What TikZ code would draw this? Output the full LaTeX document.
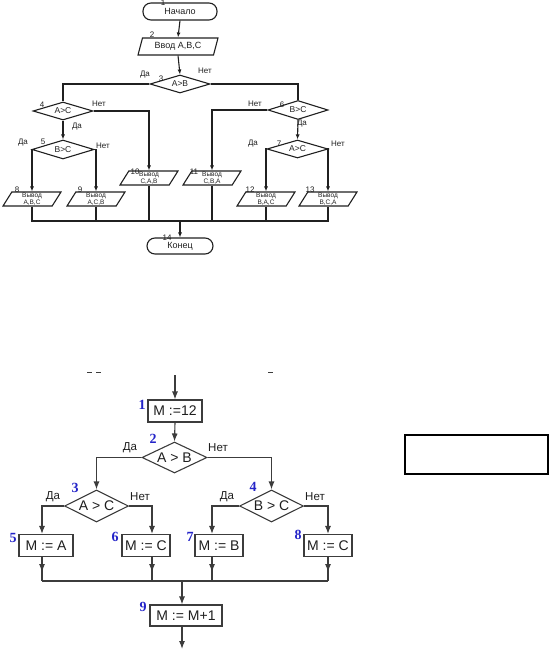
\documentclass[tikz,border=0pt]{standalone}
\usepackage{fontspec}
\setmainfont{Liberation Sans}
\newfontfamily\numfont{Liberation Serif}
\usetikzlibrary{arrows.meta,shapes.geometric,positioning}
\definecolor{ink}{HTML}{1E1E1E}
\definecolor{scanInk}{HTML}{202020}
\definecolor{greyLine}{HTML}{3C3C3C}
\definecolor{numBlue}{HTML}{2323C8}
\tikzset{
  tlin/.style={draw=scanInk,line width=1.1pt},
  tarr/.style={tlin,-{Latex[length=5pt,width=4pt]}},
  term/.style={tlin,rectangle,rounded corners=8pt,minimum width=66pt,minimum height=16pt,
    font=\fontsize{9}{10}\selectfont,text=scanInk,inner sep=1pt},
  io/.style={tlin,trapezium,trapezium left angle=70,trapezium right angle=110,
    trapezium stretches=true,minimum width=58pt,minimum height=14pt,inner sep=0pt,
    font=\fontsize{6.5}{6.5}\selectfont,text=scanInk,align=center},
  cond/.style={tlin,diamond,aspect=3.2,inner sep=0pt,minimum width=60pt,minimum height=18pt,
    font=\fontsize{8.5}{9}\selectfont,text=scanInk},
  tlab/.style={font=\fontsize{8}{9}\selectfont,text=scanInk,inner sep=0pt},
  blin/.style={draw=greyLine,line width=1.1pt},
  barr/.style={blin,-{Latex[length=8pt,width=6pt]}},
  act/.style={blin,rectangle,minimum height=22pt,inner sep=2pt,
    font=\fontsize{14}{16}\selectfont,text=ink},
  bcond/.style={blin,diamond,aspect=2,inner sep=0pt,minimum width=64pt,minimum height=32pt,
    font=\fontsize{14}{16}\selectfont,text=ink},
  blab/.style={font=\fontsize{11.5}{12}\selectfont,text=ink,inner sep=0pt},
  bnum/.style={font=\numfont\bfseries\fontsize{14}{15}\selectfont,text=numBlue,inner sep=0pt}}

\begin{document}
\begin{tikzpicture}[x=1pt,y=-1pt]
\useasboundingbox (0,0) rectangle (549,652);
\node[term,minimum width=74pt,minimum height=17pt] (start) at (180,11.5) {Начало};
\node[io,minimum width=80pt,minimum height=17pt,font=\fontsize{9}{10}\selectfont] (inp) at (178,46.5) {Ввод A,B,C};
\node[cond] (c3) at (180,84) {A>B};
\node[cond] (c4) at (63,111) {A>C};
\node[cond,minimum width=62pt,minimum height=19pt] (c5) at (63,149.5) {B>C};
\node[cond,minimum height=19pt] (c6) at (298,110) {B>C};
\node[cond,minimum width=61pt] (c7) at (297.5,149) {A>C};
\node[io] (p8) at (32,199) {Вывод\\A,B,C};
\node[io] (p9) at (96,199) {Вывод\\A,C,B};
\node[io] (p10) at (149,178) {Вывод\\C,A,B};
\node[io] (p11) at (212,178) {Вывод\\C,B,A};
\node[io] (p12) at (266,199) {Вывод\\B,A,C};
\node[io] (p13) at (328,199) {Вывод\\B,C,A};
\node[term] (fin) at (180,246) {Конец};
\coordinate (jt) at (180,221);
\node[tlab] at (163,3) {1};\node[tlab] at (152,35) {2};\node[tlab] at (161,79) {3};
\node[tlab] at (42,105) {4};\node[tlab] at (43,142) {5};\node[tlab] at (282,105) {6};
\node[tlab] at (279,144) {7};\node[tlab] at (17,190) {8};\node[tlab] at (80,190) {9};
\node[tlab] at (135,172) {10};\node[tlab] at (194,172) {11};\node[tlab] at (250,190) {12};
\node[tlab] at (310,190) {13};\node[tlab] at (167,238) {14};
\node[tlab] at (145,75) {Да};\node[tlab] at (205,71) {Нет};
\node[tlab] at (99,104) {Нет};\node[tlab] at (77,127) {Да};
\node[tlab] at (23,143) {Да};\node[tlab] at (103,146) {Нет};
\node[tlab] at (255,104) {Нет};\node[tlab] at (302,124) {Да};
\node[tlab] at (253,144) {Да};\node[tlab] at (338,144) {Нет};
\draw[tarr] (start.south) -- (inp.north);
\draw[tarr] (inp.south) -- (c3.north);
\draw[tlin] (c3.west) -| (c4.north);
\draw[tlin] (c3.east) -| (c6.north);
\draw[tarr] (c4.east) -| (p10.north);
\draw[tarr] (c4.south) -- (c5.north);
\draw[tarr] (c5.west) -| (p8.north);
\draw[tarr] (c5.east) -| (p9.north);
\draw[tarr] (c6.west) -| (p11.north);
\draw[tarr] (c6.south) -- (c7.north);
\draw[tarr] (c7.west) -| (p12.north);
\draw[tarr] (c7.east) -| (p13.north);
\draw[tlin] (p8.south) |- (p13.south |- jt) -- (p13.south);
\foreach \p in {p9,p10,p11,p12} \draw[tlin] (\p.south) -- (\p.south |- jt);
\draw[tarr] (jt) -- (fin.north);
\draw[greyLine,line width=0.8pt] (87,372) -- (92,372) (96,372) -- (101,372) (268,372) -- (273,372);
\coordinate (bin) at (175,375);
\node[act,minimum width=54pt] (b1) at (175,411) {M :=12};
\node[bcond,minimum width=65pt,minimum height=31pt] (d2) at (174.5,457.5) {A > B};
\node[bcond] (d3) at (96.5,506) {A > C};
\node[bcond] (d4) at (271.5,506) {B > C};
\node[act,minimum width=54pt] (b5) at (46,545.5) {M := A};
\node[act,minimum width=48pt] (b6) at (146,545.5) {M := C};
\node[act,minimum width=48pt] (b7) at (219,545.5) {M := B};
\node[act,minimum width=48pt] (b8) at (328,545.5) {M := C};
\node[act,minimum width=72pt,minimum height=21pt] (b9) at (186,615.5) {M := M+1};
\coordinate (jb) at (182,581);
\coordinate (bout) at (182,649);
\node[bnum] at (142,405) {1};\node[bnum] at (153,439) {2};\node[bnum] at (75,488) {3};
\node[bnum] at (253,487) {4};\node[bnum] at (13,538) {5};\node[bnum] at (115,537) {6};
\node[bnum] at (190,537) {7};\node[bnum] at (298,535) {8};\node[bnum] at (143,607) {9};
\node[blab] at (130,448) {Да};\node[blab] at (218,448) {Нет};
\node[blab] at (53,497) {Да};\node[blab] at (140,497) {Нет};
\node[blab] at (227,497) {Да};\node[blab] at (315,497) {Нет};
\draw[barr] (bin) -- (b1.north);
\draw[barr] (b1.south) -- (d2.north);
\draw[barr] (d2.west) -| (d3.north);
\draw[barr] (d2.east) -| (d4.north);
\draw[barr] (d3.west) -| ([xshift=-4pt]b5.north);
\draw[barr] (d3.east) -| ([xshift=6pt]b6.north);
\draw[barr] (d4.west) -| ([xshift=-7pt]b7.north);
\draw[barr] (d4.east) -| (b8.north);
\foreach \b/\s in {b5/-4,b6/6,b7/-7,b8/0} {
  \draw[blin] ([xshift=\s pt]\b.south) -- ([xshift=\s pt]\b.south |- jb);
  \draw[barr] ([xshift=\s pt]\b.south) -- ++(0,15);
}
\draw[blin] ([xshift=-4pt]b5.south |- jb) -- (b8.south |- jb);
\draw[barr] (jb) -- (jb |- b9.north);
\draw[barr] (jb |- b9.south) -- (bout);
\node[draw=black,line width=1.2pt,minimum width=143pt,minimum height=39pt,inner sep=0pt] (ansbox) at (476.5,454.5) {};
\end{tikzpicture}
\end{document}
